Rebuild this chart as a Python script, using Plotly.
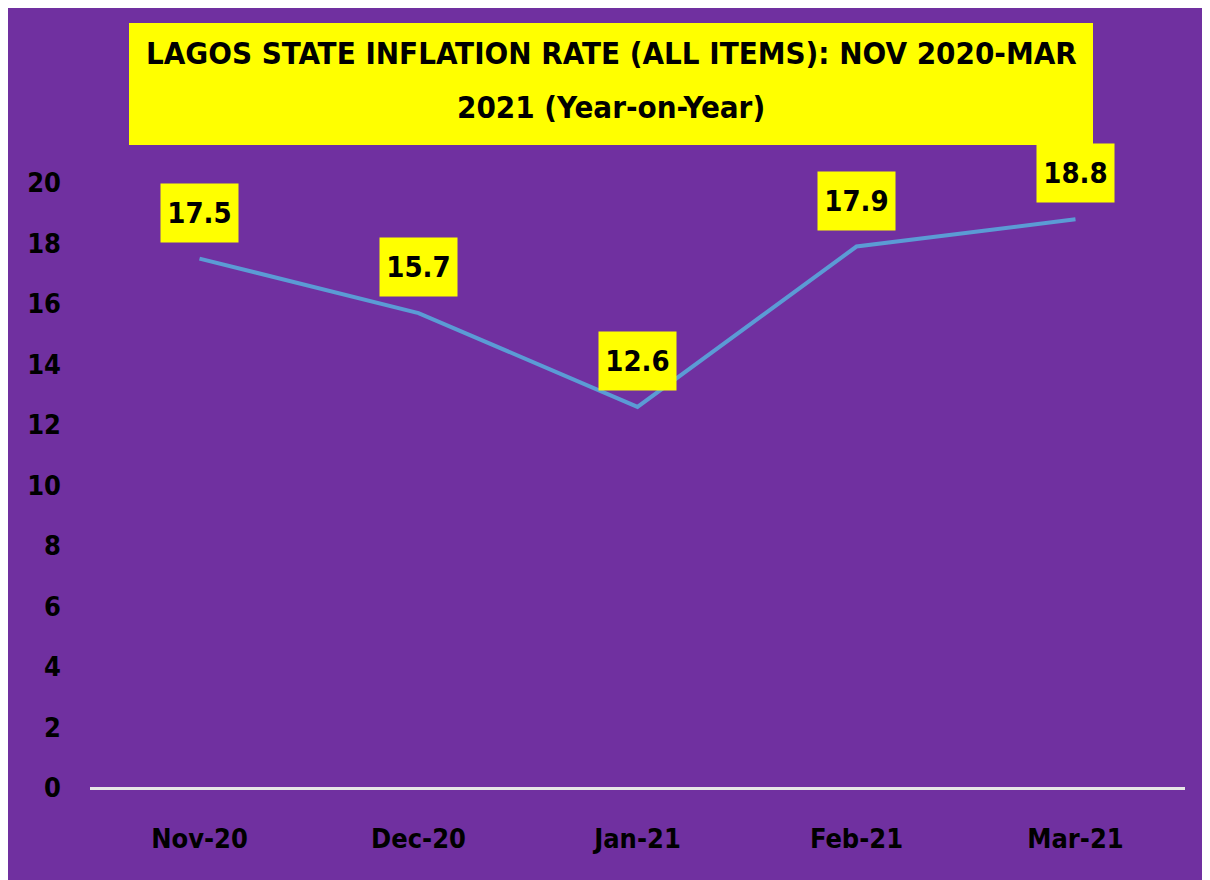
"""Lagos State inflation rate, Nov 2020 - Mar 2021."""

import plotly.graph_objects as go

months = ["Nov-20", "Dec-20", "Jan-21", "Feb-21", "Mar-21"]
inflation = [17.5, 15.7, 12.6, 17.9, 18.8]
y_ticks = list(range(0, 21, 2))
title_lines = ["LAGOS STATE INFLATION RATE (ALL ITEMS): NOV 2020-MAR",
               "2021 (Year-on-Year)"]

PURPLE = "#7030A0"
YELLOW = "#FFFF00"
FONT = "DejaVu Sans Condensed"

# plot area in pixels (figure coords)
L, R, T, B = 82, 33, 175, 100
PW, PH = 1210 - L - R, 880 - T - B


def px(x):
    return (x - L) / PW


def py(y):
    return (880 - B - y) / PH


fig = go.Figure()
fig.add_trace(go.Scatter(x=months, y=inflation, mode="lines",
                         line=dict(color="#5B9BD5", width=4), cliponaxis=False))

# data labels in yellow boxes
for m, v in zip(months, inflation):
    fig.add_annotation(x=m, y=v, text=f"{v}", showarrow=False, yshift=46,
                       bgcolor=YELLOW, width=75, height=56,
                       font=dict(family=FONT, size=29, color="black", weight="bold"))

# title box
fig.add_shape(type="rect", xref="paper", yref="paper",
              x0=px(121), x1=px(1085), y0=py(137), y1=py(15),
              fillcolor=YELLOW, line_width=0)
for line, ypos in zip(title_lines, [45, 99]):
    fig.add_annotation(xref="paper", yref="paper", x=px(603), y=py(ypos),
                       xanchor="center", yanchor="middle", showarrow=False,
                       text=line,
                       font=dict(family=FONT, size=31, color="black", weight="bold"))

fig.update_xaxes(showgrid=False, zeroline=False, showline=False, ticks="",
                 range=[-0.5, 4.5], ticklabelstandoff=32,
                 tickfont=dict(family=FONT, size=27, color="black", weight="bold"))
fig.update_yaxes(range=[0, 20], tickvals=y_ticks, showgrid=False,
                 zeroline=True, zerolinecolor="#E6E6E6", zerolinewidth=3,
                 showline=False, ticks="", ticklabelstandoff=28,
                 tickfont=dict(family=FONT, size=27, color="black", weight="bold"))

fig.update_layout(width=1210, height=880, showlegend=False,
                  paper_bgcolor=PURPLE, plot_bgcolor=PURPLE,
                  margin=dict(l=L, r=R, t=T, b=B))

fig.write_html("out.html")
